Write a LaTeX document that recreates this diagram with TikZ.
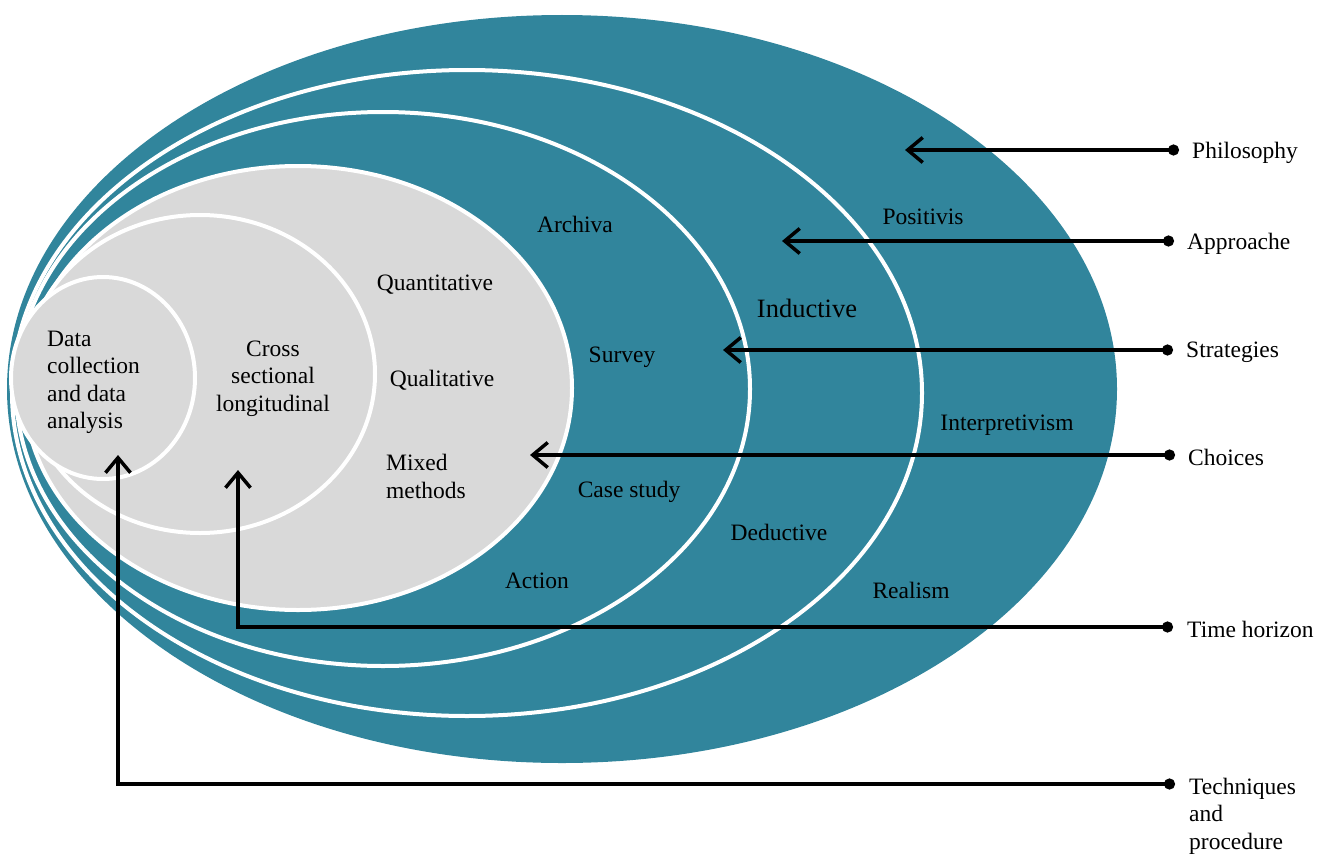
\documentclass[tikz,border=0pt]{standalone}
\usepackage{fontspec}
\setmainfont{Liberation Serif}
\usetikzlibrary{arrows.meta,positioning}
\definecolor{layerteal}{RGB}{49,133,156}
\definecolor{layergrey}{RGB}{217,217,217}

\begin{document}
\begin{tikzpicture}[x=1pt,y=-1pt,
  lbl/.style={inner sep=0pt,yshift=-2.5pt,font=\fontsize{23.5}{27.5}\selectfont},
  pointer/.style={line width=3.5pt,{Circle[length=11pt,width=11pt]}-{Straight Barb[length=15pt,width=25pt]}}]
  \useasboundingbox (0,0) rectangle (1319,859);

  % layers of the onion
  \fill[layerteal] (562,389) ellipse [x radius=555,y radius=374];
  \foreach \cx/\cy/\rx/\ry/\c in {467/393/455/323/layerteal,383/389/367/277/layerteal,298/388/274/222/layergrey,200/374/175/159/layergrey,103/378/92/101/layergrey}
    \draw[white,line width=4pt,fill=\c] (\cx,\cy) ellipse [x radius=\rx,y radius=\ry];

  \node[lbl,align=left,anchor=west] (data) at (47,380) {Data\\collection\\and data\\analysis};
  \node[lbl,align=center] (cross) at (273,376) {Cross\\sectional\\longitudinal};
  \node[lbl] (quant) at (435,282) {Quantitative};
  \node[lbl] (qual) at (442,378) {Qualitative};
  \node[lbl,align=left,anchor=west] (mixed) at (386,474) {Mixed\\methods};
  \node[lbl] (archiva) at (575,222) {Archiva};
  \node[lbl] (survey) at (622,355) {Survey};
  \node[lbl] (casestudy) at (629,489) {Case study};
  \node[lbl] (action) at (537,578) {Action};
  \node[lbl,font=\fontsize{26.5}{30}\selectfont] (induct) at (807,306) {Inductive};
  \node[lbl] (deduct) at (779,530) {Deductive};
  \node[lbl] (posit) at (923,214) {Positivis};
  \node[lbl] (interp) at (1007,423) {Interpretivism};
  \node[lbl] (real) at (911,588) {Realism};

  % pointers from the layer names
  \foreach \n/\xd/\y/\xt in {phil/1179/150/905,appr/1174/241/782,strat/1173/350/723,choice/1175/455/530}{
    \coordinate (d\n) at (\xd,\y);
    \coordinate (t\n) at (\xt,\y);
    \draw[pointer] (d\n) -- (t\n);
  }
  \coordinate (dtime) at (1173,627);
  \coordinate (ttime) at (238,470);
  \draw[pointer] (dtime) -| (ttime);
  \coordinate (dtech) at (1175,784);
  \coordinate (ttech) at (118,455);
  \draw[pointer] (dtech) -| (ttech);

  \node[lbl,right=13pt of dphil] (phil) {Philosophy};
  \node[lbl,right=13pt of dappr] (appr) {Approache};
  \node[lbl,right=13pt of dstrat] (strat) {Strategies};
  \node[lbl,right=13pt of dchoice] (choice) {Choices};
  \node[lbl,right=14pt of dtime] (time) {Time horizon};
  \node[lbl,align=left,anchor=north west] (tech) at (1189,775) {Techniques\\and\\procedure};
\end{tikzpicture}
\end{document}
